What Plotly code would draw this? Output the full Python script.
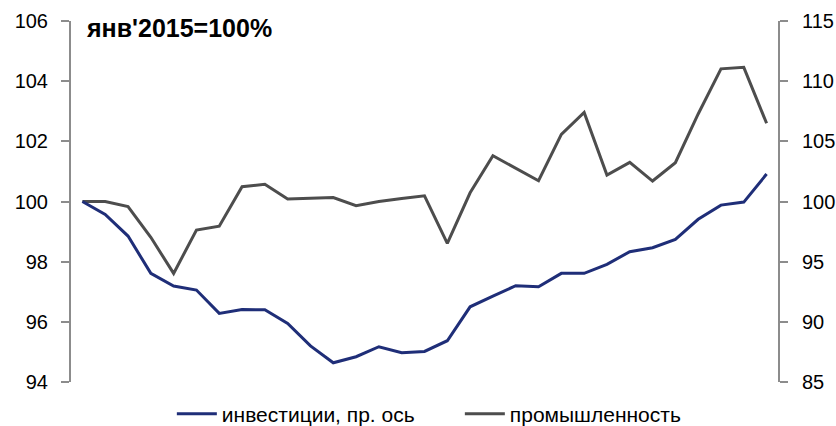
import plotly.graph_objects as go

months = ["янв'15","фев'15","мар'15","апр'15","май'15","июн'15","июл'15","авг'15","сен'15","окт'15","ноя'15","дек'15",
          "янв'16","фев'16","мар'16","апр'16","май'16","июн'16","июл'16","авг'16","сен'16","окт'16","ноя'16","дек'16",
          "янв'17","фев'17","мар'17","апр'17","май'17","июн'17","июл'17"]

investments = [100.0, 98.93, 97.13, 94.03, 92.97, 92.64, 90.70, 91.03, 91.00, 89.87, 88.00,
               86.60, 87.10, 87.93, 87.43, 87.54, 88.43, 91.25, 92.14, 93.00, 92.92,
               94.03, 94.03, 94.78, 95.83, 96.16, 96.85, 98.52, 99.70, 99.95, 102.28]

industry = [100.0, 100.0, 99.83, 98.81, 97.61, 99.05, 99.18, 100.49, 100.57, 100.08, 100.11,
            100.13, 99.86, 100.0, 100.1, 100.19, 98.61, 100.29, 101.52, 101.10, 100.69,
            102.23, 102.96, 100.88, 101.30, 100.68, 101.29, 102.91, 104.41, 104.46, 102.60]

left_ticks = [94, 96, 98, 100, 102, 104, 106]
right_ticks = [85, 90, 95, 100, 105, 110, 115]

FONT = "Liberation Sans, Arial, sans-serif"
BLUE = "#1F2E78"
GREY = "#4D4D4D"
AXIS = "#8C8C8C"

fig = go.Figure()
fig.add_trace(go.Scatter(x=months, y=investments, name="инвестиции, пр. ось", mode="lines",
                         line=dict(color=BLUE, width=3), yaxis="y2"))
fig.add_trace(go.Scatter(x=months, y=industry, name="промышленность", mode="lines",
                         line=dict(color=GREY, width=3), yaxis="y"))

fig.update_layout(
    width=836, height=426,
    margin=dict(l=71, r=58, t=21, b=44, autoexpand=False),
    paper_bgcolor="white", plot_bgcolor="white",
    font=dict(family=FONT, size=20, color="black"),
    showlegend=True,
    legend=dict(orientation="h", x=0.55, xanchor="center", yref="container", y=0.028, yanchor="middle",
                font=dict(size=21), itemwidth=40, tracegroupgap=0,
                entrywidth=233, entrywidthmode="pixels"),
    xaxis=dict(type="category", range=[-0.5, len(months) - 0.5], showticklabels=False,
               showline=False, showgrid=False, zeroline=False, ticks=""),
    yaxis=dict(range=[94, 106], tickvals=left_ticks, showgrid=False, zeroline=False,
               showline=True, linecolor=AXIS, linewidth=2, ticks="outside", ticklen=8,
               tickcolor=AXIS, tickwidth=2, ticklabelstandoff=9, automargin=False),
    yaxis2=dict(range=[85, 115], tickvals=right_ticks, overlaying="y", side="right",
                showgrid=False, zeroline=False, showline=True, linecolor=AXIS, linewidth=2,
                ticks="outside", ticklen=8, tickcolor=AXIS, tickwidth=2, ticklabelstandoff=10,
                automargin=False),
    annotations=[dict(text="<b>янв'2015=100%</b>", xref="paper", yref="paper",
                      x=0.018, y=0.98, xanchor="left", yanchor="middle", showarrow=False,
                      font=dict(family=FONT, size=25, color="black"))],
)

fig.write_html("out.html", config={"displayModeBar": False},
               post_script="document.body.style.margin='0';document.body.style.overflow='hidden';")
